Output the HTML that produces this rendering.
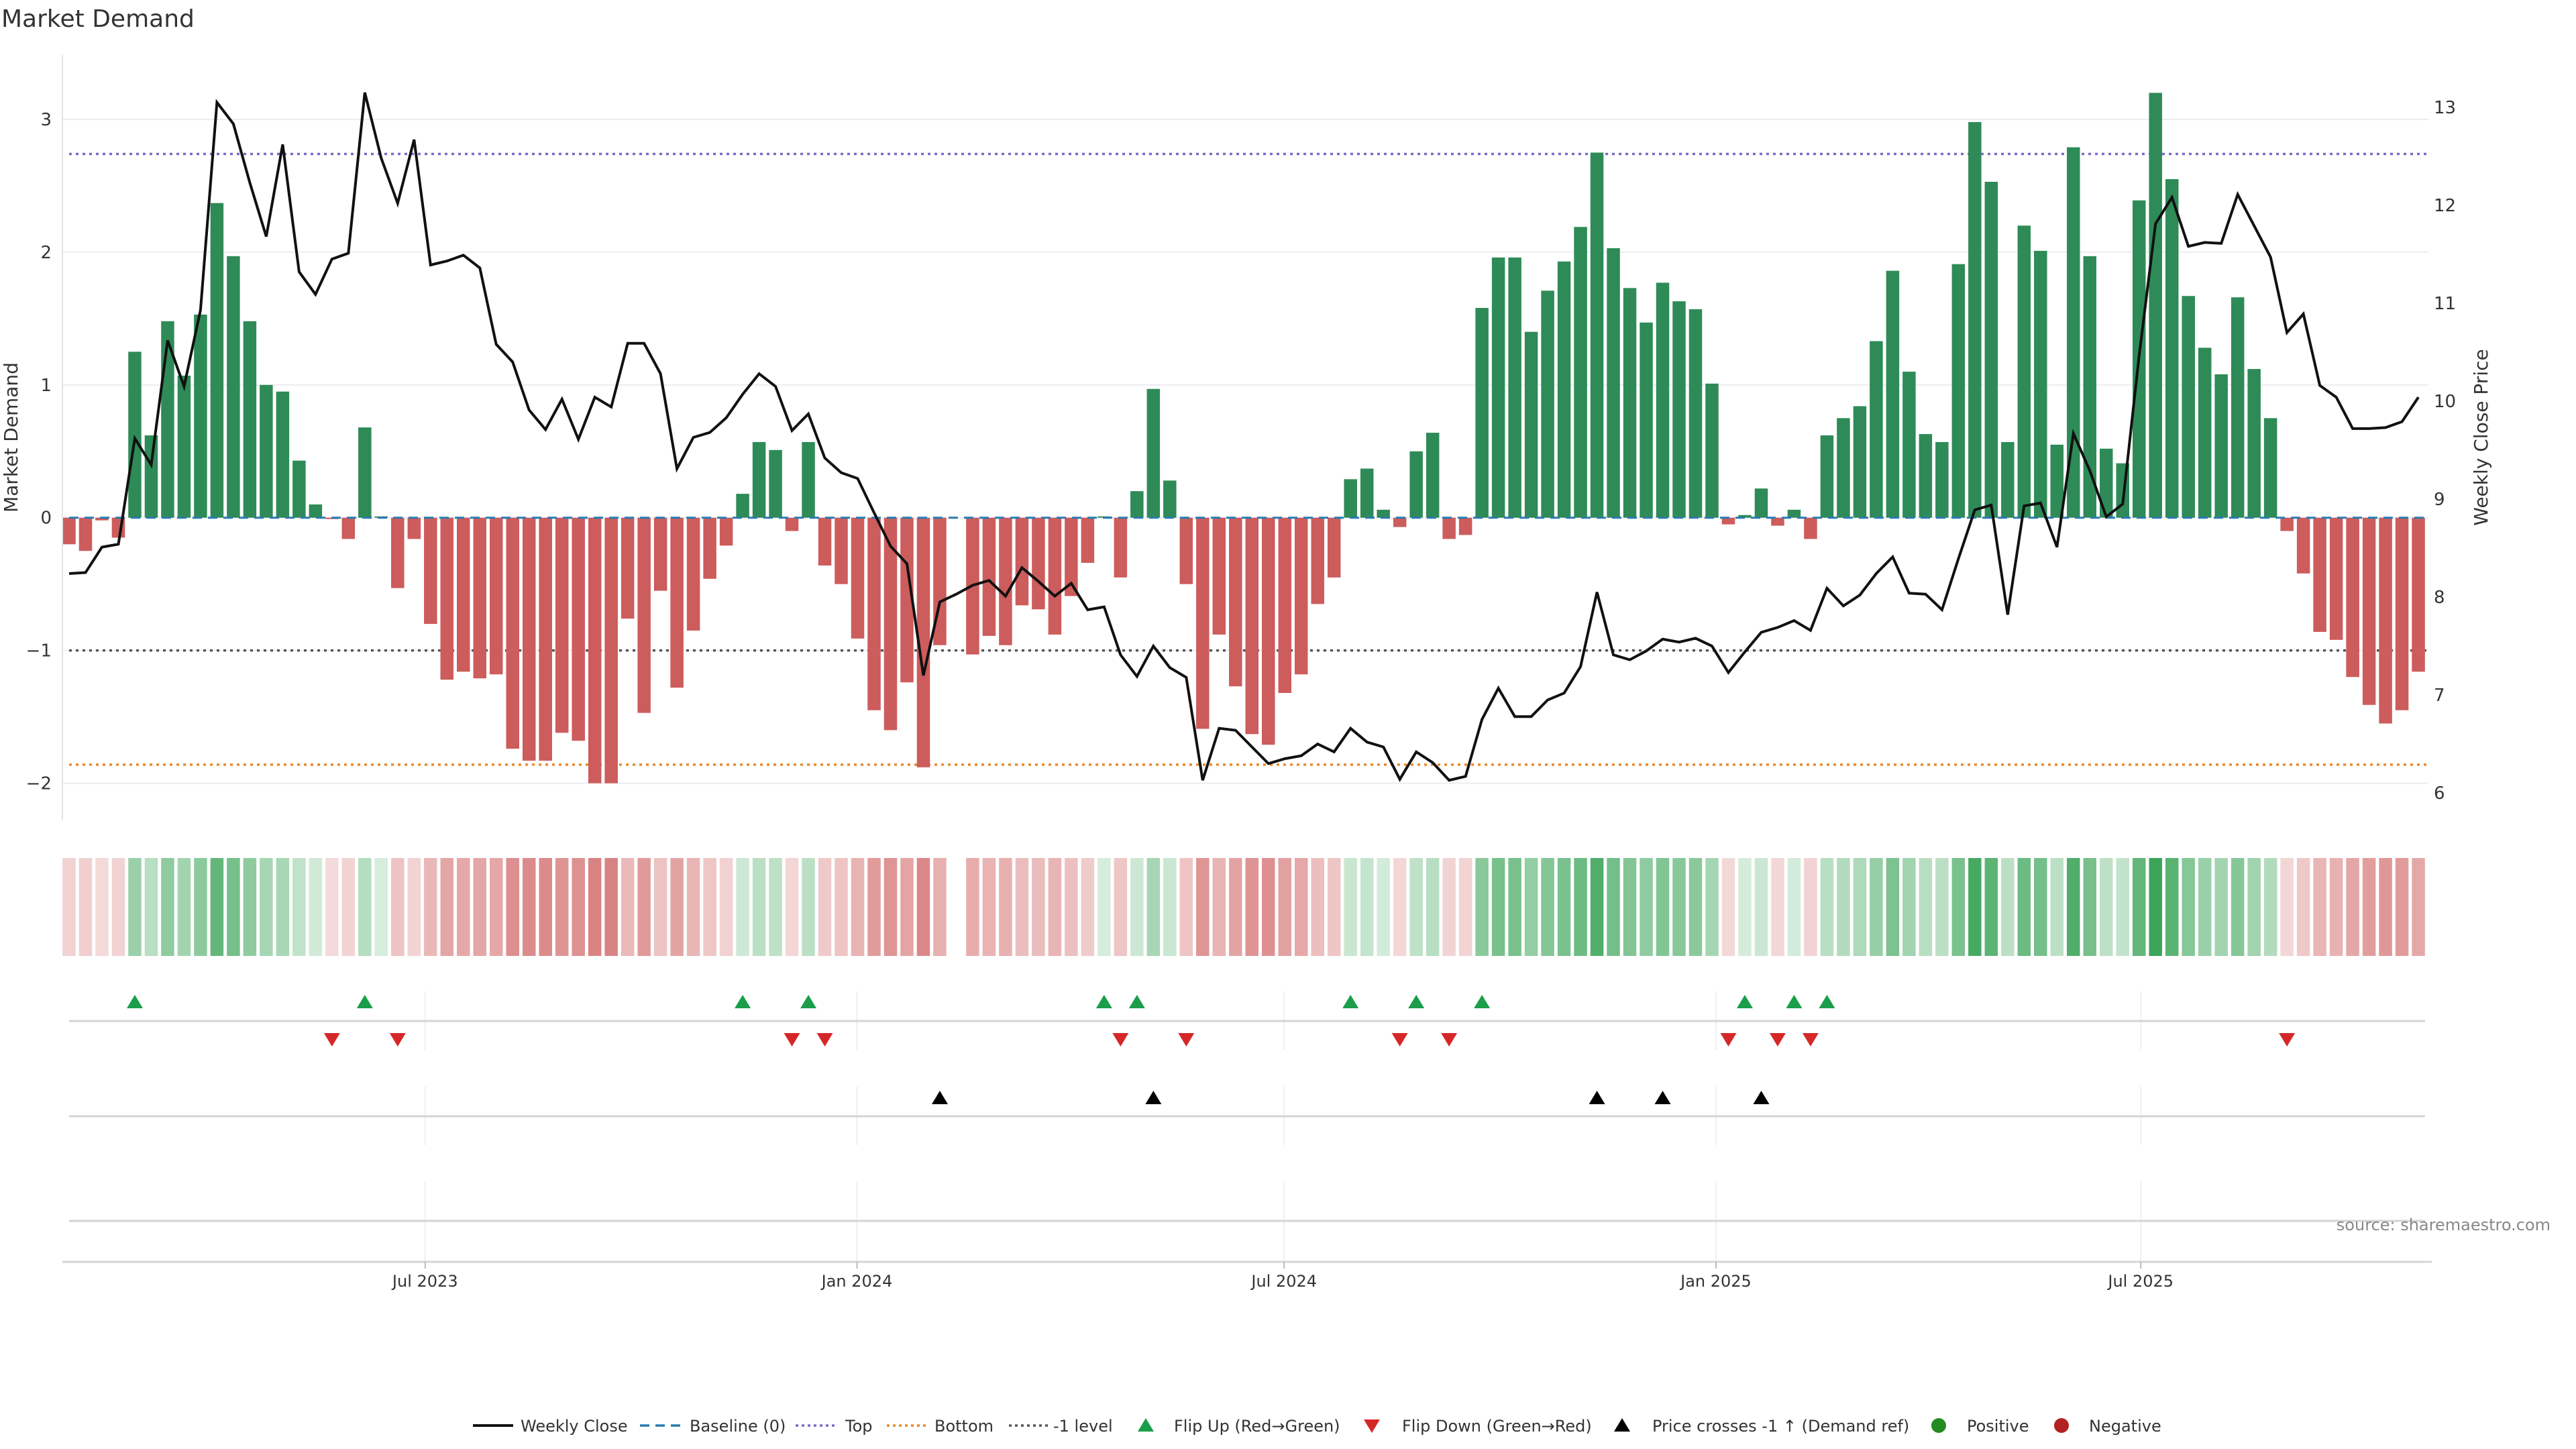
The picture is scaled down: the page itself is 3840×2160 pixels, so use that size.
<!DOCTYPE html>
<html><head><meta charset="utf-8">
<style>
html,body{margin:0;padding:0;background:#fff;}
svg{display:block;font-family:"DejaVu Sans","Liberation Sans",sans-serif;}
</style></head>
<body>
<svg id="chart" width="3840" height="2160" viewBox="0 0 3840 2160" xmlns="http://www.w3.org/2000/svg">
<text x="2" y="40" font-size="36" fill="#333">Market Demand</text>
<g id="grid"></g>
<g id="refs"></g>
<g id="bars"></g>
<g id="priceg"></g>
<g id="heat"></g>
<g id="events"></g>
<g id="axes"></g>
<text transform="translate(26,652) rotate(-90)" text-anchor="middle" font-size="28" fill="#333">Market Demand</text>
<text transform="translate(3708,652) rotate(-90)" text-anchor="middle" font-size="28" fill="#333">Weekly Close Price</text>
<text x="3802" y="1834" text-anchor="end" font-size="24" fill="#888">source: sharemaestro.com</text>
<g id="legend" font-size="24" fill="#333" transform="translate(0,-6)">
  <g><line x1="705" y1="2131" x2="765" y2="2131" stroke="#111" stroke-width="4"/><text x="776" y="2140">Weekly Close</text></g>
  <g><line x1="954" y1="2131" x2="1014" y2="2131" stroke="#2a7ab0" stroke-width="3.5" stroke-dasharray="14,9"/><text x="1028" y="2140">Baseline (0)</text></g>
  <g><line x1="1186" y1="2131" x2="1246" y2="2131" stroke="#7b68c8" stroke-width="3.5" stroke-dasharray="4,5"/><text x="1260" y="2140">Top</text></g>
  <g><line x1="1322" y1="2131" x2="1382" y2="2131" stroke="#e8892a" stroke-width="3.5" stroke-dasharray="4,5"/><text x="1393" y="2140">Bottom</text></g>
  <g><line x1="1504" y1="2131" x2="1564" y2="2131" stroke="#555" stroke-width="3.5" stroke-dasharray="4,5"/><text x="1570" y="2140">-1 level</text></g>
  <g><polygon points="1708,2120 1720,2140 1696,2140" fill="#1a9e4a"/><text x="1750" y="2140">Flip Up (Red→Green)</text></g>
  <g><polygon points="2033,2122 2057,2122 2045,2142" fill="#d62728"/><text x="2090" y="2140">Flip Down (Green→Red)</text></g>
  <g><polygon points="2418,2120 2430,2140 2406,2140" fill="#000"/><text x="2463" y="2140">Price crosses -1 ↑ (Demand ref)</text></g>
  <g><circle cx="2890" cy="2131" r="11" fill="#228b22"/><text x="2932" y="2140">Positive</text></g>
  <g><circle cx="3073" cy="2131" r="11" fill="#b22222"/><text x="3114" y="2140">Negative</text></g>
</g>
</svg>
<script>
const demand = [-0.20,-0.25,-0.02,-0.15,1.25,0.62,1.48,1.07,1.53,2.37,1.97,1.48,1.00,0.95,0.43,0.10,-0.01,-0.16,0.68,0.01,
-0.53,-0.16,-0.80,-1.22,-1.16,-1.21,-1.18,-1.74,-1.83,-1.83,-1.62,-1.68,-2.00,-2.00,-0.76,-1.47,-0.55,-1.28,-0.85,-0.46,
-0.21,0.18,0.57,0.51,-0.10,0.57,-0.36,-0.50,-0.91,-1.45,-1.60,-1.24,-1.88,-0.96,null,-1.03,-0.89,-0.96,-0.66,-0.69,
-0.88,-0.59,-0.34,0.01,-0.45,0.20,0.97,0.28,-0.50,-1.59,-0.88,-1.27,-1.63,-1.71,-1.32,-1.18,-0.65,-0.45,0.29,0.37,
0.06,-0.07,0.50,0.64,-0.16,-0.13,1.58,1.96,1.96,1.40,1.71,1.93,2.19,2.75,2.03,1.73,1.47,1.77,1.63,1.57,
1.01,-0.05,0.02,0.22,-0.06,0.06,-0.16,0.62,0.75,0.84,1.33,1.86,1.10,0.63,0.57,1.91,2.98,2.53,0.57,2.20,
2.01,0.55,2.79,1.97,0.52,0.41,2.39,3.20,2.55,1.67,1.28,1.08,1.66,1.12,0.75,-0.10,-0.42,-0.86,-0.92,-1.20,
-1.41,-1.55,-1.45,-1.16];
const price = [8.24,8.25,8.51,8.54,9.62,9.35,10.62,10.15,10.93,13.05,12.83,12.23,11.68,12.62,11.32,11.09,11.45,11.51,13.15,12.48,
12.02,12.67,11.39,11.43,11.49,11.36,10.58,10.40,9.91,9.71,10.02,9.61,10.04,9.94,10.59,10.59,10.28,9.31,9.63,9.68,
9.83,10.07,10.28,10.15,9.70,9.87,9.42,9.27,9.21,8.86,8.52,8.34,7.20,7.95,8.03,8.12,8.17,8.01,8.30,8.16,
8.01,8.14,7.87,7.90,7.41,7.19,7.50,7.28,7.18,6.13,6.66,6.64,6.47,6.30,6.35,6.38,6.50,6.42,6.66,6.52,
6.47,6.14,6.42,6.31,6.13,6.17,6.75,7.07,6.78,6.78,6.95,7.02,7.29,8.05,7.41,7.36,7.45,7.57,7.54,7.58,
7.50,7.23,7.44,7.64,7.69,7.76,7.66,8.09,7.91,8.02,8.24,8.41,8.04,8.03,7.87,8.39,8.89,8.94,7.82,8.93,
8.96,8.51,9.67,9.29,8.82,8.95,10.46,11.81,12.08,11.58,11.62,11.61,12.11,11.79,11.47,10.70,10.89,10.16,10.04,9.72,
9.72,9.73,9.79,10.04];
const leftTicks = [-2,-1,0,1,2,3];
const rightTicks = [6,7,8,9,10,11,12,13];
const dateTickLabels = ["Jul 2023","Jan 2024","Jul 2024","Jan 2025","Jul 2025"];
const dateTickDates = ["2023-07-01","2024-01-01","2024-07-01","2025-01-01","2025-07-01"];
const refTop = 2.74, refBottom = -1.86, refMinus1 = -1;

const NS="http://www.w3.org/2000/svg";
const startMs = Date.UTC(2023,0,30,7);
const X0=103, STEP=24.49;
function xIdx(i){return X0+i*STEP;}
function xDate(s){const w=(Date.parse(s+"T00:00:00Z")-startMs)/(7*864e5);return X0+w*STEP;}
const TOP=81,BOT=1223;
const LMIN=-2.28,LMAX=3.49,RMIN=5.72,RMAX=13.54;
function yL(v){return BOT-(v-LMIN)/(LMAX-LMIN)*(BOT-TOP);}
function yR(p){return BOT-(p-RMIN)/(RMAX-RMIN)*(BOT-TOP);}
function pFromY(y){return RMIN+(BOT-y)/(BOT-TOP)*(RMAX-RMIN);}
function mk(tag,attrs,parent){const e=document.createElementNS(NS,tag);for(const k in attrs)e.setAttribute(k,attrs[k]);parent.appendChild(e);return e;}
const XL=93, XR=3620;

const grid=document.getElementById('grid');
leftTicks.forEach(t=>{const l=mk('line',{x1:XL,x2:XR,y1:yL(t),y2:yL(t),stroke:'#ececf2','stroke-width':2},grid);

});
const axes=document.getElementById('axes');
const al=mk('line',{x1:XL,x2:XL,y1:TOP,y2:BOT,stroke:'#e4e4e4','stroke-width':2},axes);


leftTicks.forEach(t=>{const tx=mk('text',{x:77,y:yL(t)+9,'text-anchor':'end','font-size':26,fill:'#333'},axes);tx.textContent=(t<0?'\u2212':'')+Math.abs(t);

});
rightTicks.forEach(t=>{const tx=mk('text',{x:3628,y:yR(t)+9,'font-size':26,fill:'#333'},axes);tx.textContent=t;

});

const refs=document.getElementById('refs');
[[refTop,'#7b68c8','ref-top'],[refBottom,'#e8892a','ref-bottom'],[refMinus1,'#555','ref-minus1']].forEach(r=>{
const l=mk('line',{x1:103,x2:XR,y1:yL(r[0]),y2:yL(r[0]),stroke:r[1],'stroke-width':3.5,'stroke-dasharray':'4,6'},refs);

});

const bars=document.getElementById('bars');
demand.forEach((v,i)=>{if(v===null)return;const y0=yL(0),y1=yL(v);
const r=mk('rect',{x:xIdx(i)-9.75,width:19.5,y:Math.min(y0,y1),height:Math.max(1,Math.abs(y1-y0)),fill:v>0?'#2e8b57':'#cd5c5c'},bars);

});
const pg=document.getElementById('priceg');
const bl=mk('line',{x1:103,x2:XR,y1:yL(0),y2:yL(0),stroke:'#2a7ab0','stroke-width':3,'stroke-dasharray':'14,9'},pg);



const pts=price.map((p,i)=>xIdx(i).toFixed(1)+','+yR(p).toFixed(1)).join(' ');
const pl=mk('polyline',{points:pts,fill:'none',stroke:'#111','stroke-width':4,'stroke-linejoin':'miter'},pg);



const heat=document.getElementById('heat');
const VMAX=3.2;
function mix(c,a){return 'rgb('+c.map(k=>Math.round(255*(1-a)+k*a)).join(',')+')';}
demand.forEach((v,i)=>{if(v===null)return;const a=Math.min(0.95,0.2+0.75*Math.abs(v)/VMAX);
const r=mk('rect',{x:xIdx(i)-9.75,width:19.5,y:1279,height:146,fill:v>0?mix([50,160,80],a):mix([200,70,70],a)},heat);

});

const ev=document.getElementById('events');
dateTickDates.forEach(d=>{const x=xDate(d);
[[1478,1565],[1620,1707],[1761,1881]].forEach(s=>{const l=mk('line',{x1:x,x2:x,y1:s[0],y2:s[1],stroke:'#efefef','stroke-width':2},ev);

});});
[1522,1664,1820,1881].forEach((y,k)=>{const l=mk('line',{x1:k==3?93:103,x2:k==3?3625:3615,y1:y,y2:y,stroke:'#d4d4d4','stroke-width':3},ev);

});
function tri(x,y,up,color,name){const p=up?[[x,y-10],[x+12,y+10],[x-12,y+10]]:[[x-12,y-10],[x+12,y-10],[x,y+10]];
const t=mk('polygon',{points:p.map(q=>q.join(',')).join(' '),fill:color},ev);

}
let prev=null;
demand.forEach((v,i)=>{if(v===null)return;if(prev!==null){
if(v>0&&prev<=0)tri(xIdx(i),1493,true,'#1a9e4a','flip-up-marker');
if(v<=0&&prev>0)tri(xIdx(i),1550,false,'#d62728','flip-down-marker');}prev=v;});
const lvlPrice=pFromY(yL(refMinus1));
price.forEach((p,i)=>{if(i>0&&price[i-1]<lvlPrice&&p>=lvlPrice)tri(xIdx(i),1636,true,'#000','price-cross-marker');});

dateTickDates.forEach((d,k)=>{const x=xDate(d);
const tk=mk('line',{x1:x,x2:x,y1:1881,y2:1891,stroke:'#bbb','stroke-width':2},axes);


const tx=mk('text',{x:x,y:1918,'text-anchor':'middle','font-size':24,fill:'#333'},axes);tx.textContent=dateTickLabels[k];

});
</script>
</body></html>
